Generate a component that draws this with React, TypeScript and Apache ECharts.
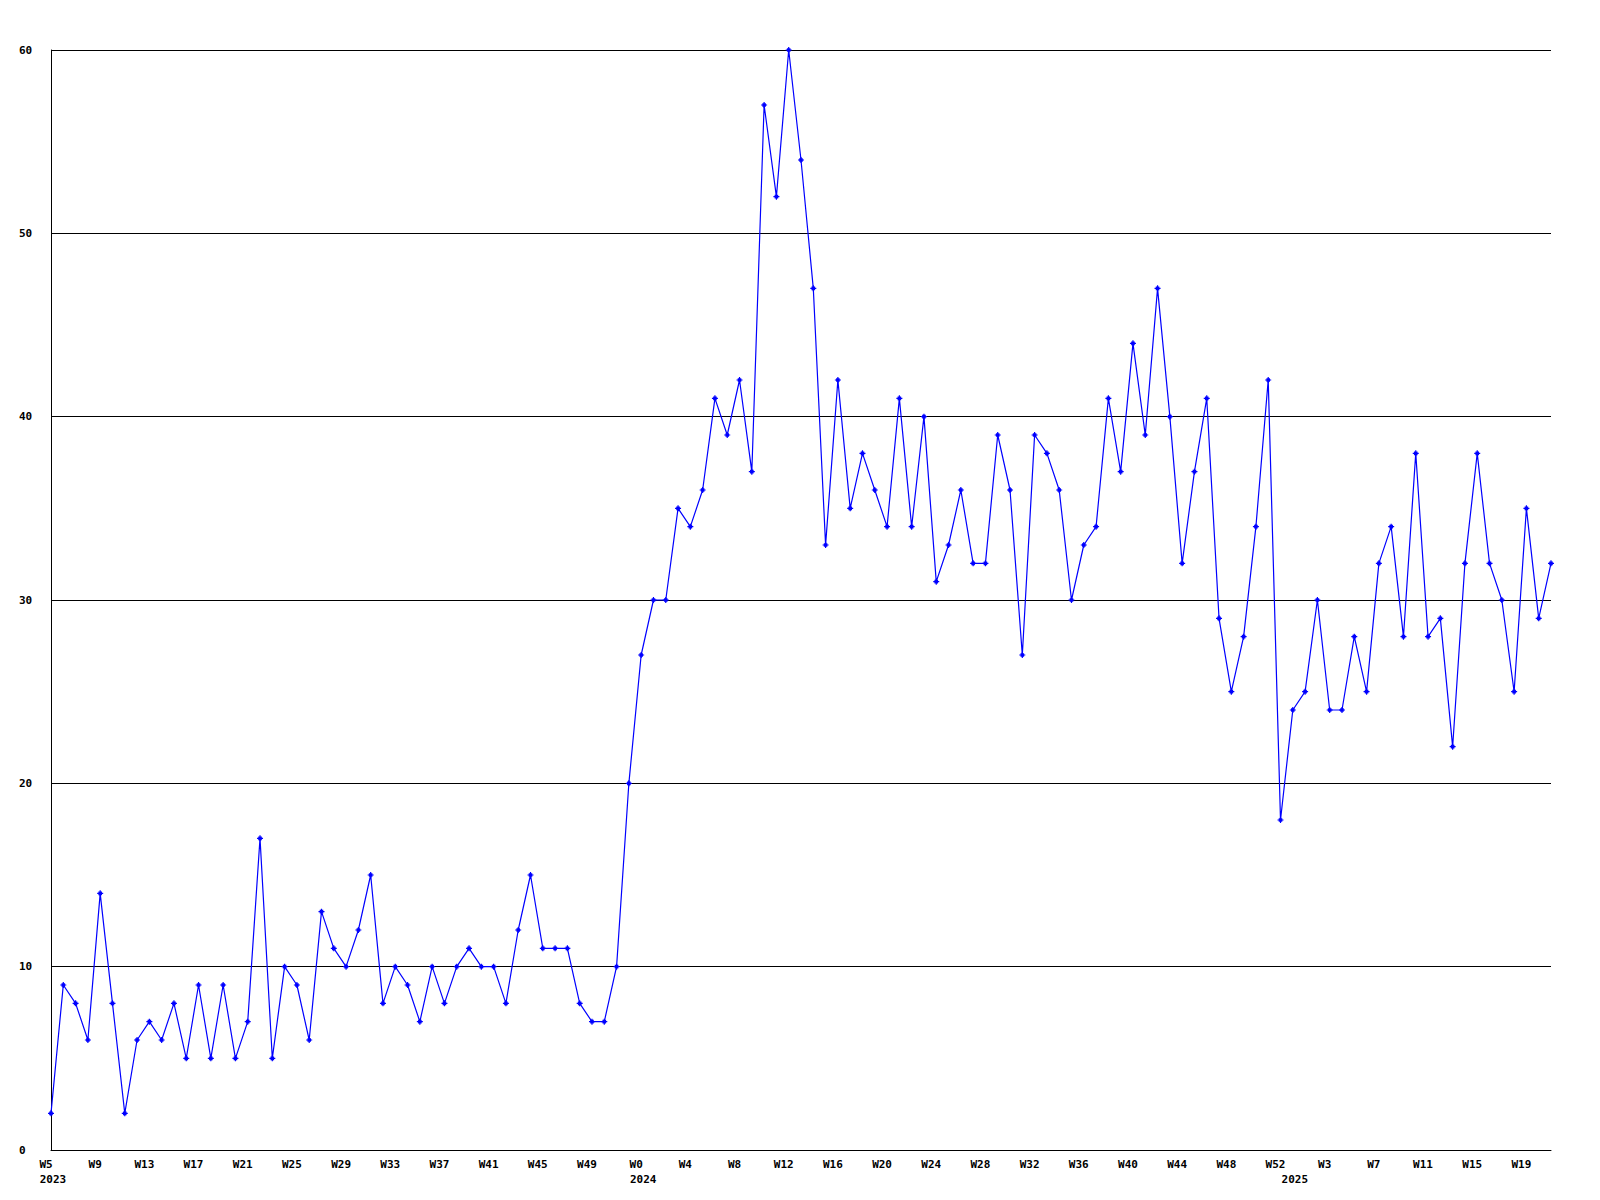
import React, { useEffect, useRef } from "react";
import * as echarts from "echarts";

// Week labels per year
const weeks2023: string[] = Array.from({ length: 48 }, (_, i) => `W${i + 5}`); // W5..W52
const weeks2024: string[] = Array.from({ length: 53 }, (_, i) => `W${i}`); // W0..W52
const weeks2025: string[] = Array.from({ length: 22 }, (_, i) => `W${i}`); // W0..W21

const values2023: number[] = [
  2, 9, 8, 6, 14, 8, 2, 6, 7, 6, 8, 5, 9, 5, 9, 5, 7, 17, 5, 10, 9, 6, 13, 11,
  10, 12, 15, 8, 10, 9, 7, 10, 8, 10, 11, 10, 10, 8, 12, 15, 11, 11, 11, 8, 7, 7, 10, 20,
];
const values2024: number[] = [
  27, 30, 30, 35, 34, 36, 41, 39, 42, 37, 57, 52, 60, 54, 47, 33, 42, 35, 38, 36, 34,
  41, 34, 40, 31, 33, 36, 32, 32, 39, 36, 27, 39, 38, 36, 30, 33, 34, 41, 37, 44, 39,
  47, 40, 32, 37, 41, 29, 25, 28, 34, 42, 18,
];
const values2025: number[] = [
  24, 25, 30, 24, 24, 28, 25, 32, 34, 28, 38, 28, 29, 22, 32, 38, 32, 30, 25, 35, 29, 32,
];

const years: string[] = ["2023", "2024", "2025"];
const yTicks: number[] = [0, 10, 20, 30, 40, 50, 60];

export default function App() {
  const ref = useRef<HTMLDivElement>(null);
  useEffect(() => {
    if (!ref.current) return;
    const chart = echarts.init(ref.current, undefined, { renderer: "svg" });
    const categories = [...weeks2023, ...weeks2024, ...weeks2025];
    const values = [...values2023, ...values2024, ...values2025];
    const yearStarts: Record<number, string> = {
      0: years[0],
      [weeks2023.length]: years[1],
      [weeks2023.length + weeks2024.length]: years[2],
    };
    const font = "DejaVu Sans Mono";
    chart.setOption({
      animation: false,
      backgroundColor: "#ffffff",
      grid: { left: 51, right: 49, top: 50, bottom: 50, containLabel: false },
      xAxis: [
        {
          type: "category",
          data: categories,
          boundaryGap: false,
          axisLine: { show: true, lineStyle: { color: "#000", width: 1 } },
          axisTick: { show: false },
          splitLine: { show: false },
          axisLabel: {
            interval: 3,
            margin: 9,
            padding: [0, 10, 0, 0],
            color: "#000",
            fontFamily: font,
            fontWeight: "bold",
            fontSize: 11,
          },
        },
        {
          type: "category",
          data: categories,
          boundaryGap: false,
          position: "bottom",
          offset: 15,
          axisLine: { show: false },
          axisTick: { show: false },
          splitLine: { show: false },
          axisLabel: {
            interval: (i: number) => yearStarts[i] !== undefined,
            formatter: (_v: string, i: number) => yearStarts[i] ?? "",
            margin: 9,
            padding: [0, 0, 0, 4],
            color: "#000",
            fontFamily: font,
            fontWeight: "bold",
            fontSize: 11,
          },
        },
      ],
      yAxis: {
        type: "value",
        min: yTicks[0],
        max: yTicks[yTicks.length - 1],
        interval: 10,
        axisLine: { show: true, lineStyle: { color: "#000", width: 1 } },
        axisTick: { show: false },
        splitLine: { show: true, lineStyle: { color: "#000", width: 1 } },
        axisLabel: {
          align: "left",
          margin: 32,
          color: "#000",
          fontFamily: font,
          fontWeight: "bold",
          fontSize: 11,
        },
      },
      series: [
        {
          type: "line",
          xAxisIndex: 0,
          data: values,
          symbol: "path://M2,0H3V1H4V2H5V3H4V4H3V5H2V4H1V3H0V2H1V1H2Z",
          symbolSize: 6,
          showAllSymbol: true,
          lineStyle: { color: "#0000ff", width: 1.2 },
          itemStyle: { color: "#0000ff" },
        },
      ],
    });
    return () => chart.dispose();
  }, []);
  return (
    <div
      ref={ref}
      style={{ position: "absolute", left: 0, top: 0, width: 1600, height: 1200, background: "#fff" }}
    />
  );
}
